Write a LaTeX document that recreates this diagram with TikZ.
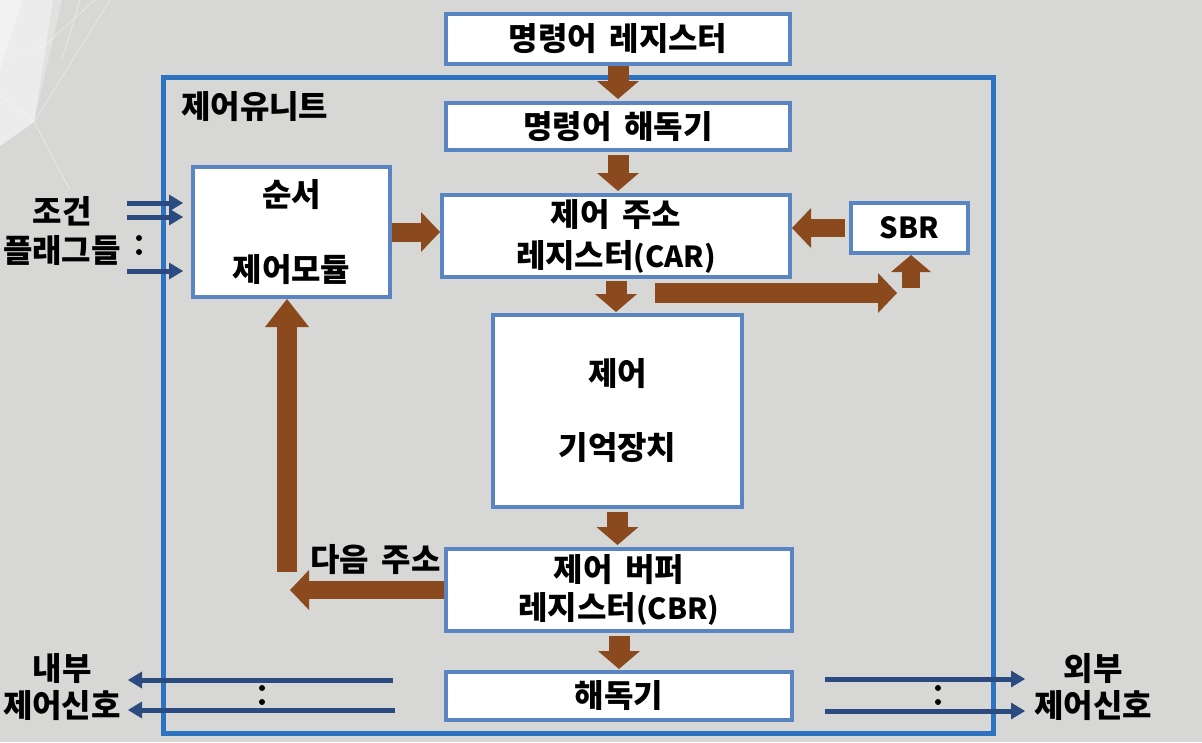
\documentclass[tikz,border=0pt]{standalone}
\usepackage{fontspec}
\setmainfont{Noto Sans CJK KR}
\usetikzlibrary{arrows.meta,calc}
\definecolor{bg}{HTML}{D7D7D5}
\definecolor{outerb}{HTML}{2E72C2}
\definecolor{boxb}{HTML}{5A85C3}
\definecolor{brn}{HTML}{8B4A1E}
\definecolor{navy}{HTML}{2B4B80}
\newcommand{\ws}{\hspace{0.4em}}
\newcommand{\lat}[1]{{\fontsize{29}{38}\selectfont #1}}
\begin{document}
\begin{tikzpicture}[x=1pt,y=-1pt,
  box/.style={draw=boxb, line width=4pt, fill=white, inner sep=0pt, align=center,
    font=\fontsize{32}{38}\selectfont\bfseries},
  lbl/.style={align=center, inner sep=0pt, font=\fontsize{32}{38}\selectfont\bfseries},
  barrow/.style={draw=brn, line width=21pt, -{Triangle[length=18pt,width=42pt,line width=0pt]}},
  harrow/.style={draw=brn, line width=19pt, -{Triangle[length=19pt,width=40pt,line width=0pt]}},
  sig/.style={draw=navy, line width=5pt, -{Triangle[length=14pt,width=17pt,line width=0pt]}},
  dotm/.style={fill=black, circle, inner sep=0pt, minimum size=6pt}]
\fill[bg] (0,0) rectangle (1202,742);
\useasboundingbox (0,0) rectangle (1202,742);
% background decoration
\fill[white, opacity=0.55] (0,0) -- (53,0) -- (34,122) -- (0,146) -- cycle;
\fill[white, opacity=0.35] (0,0) -- (22,0) -- (0,70) -- cycle;
\fill[white, opacity=0.25] (53,0) -- (62,0) -- (34,122) -- cycle;
\draw[white, opacity=0.5, line width=0.6pt] (0,95) -- (34,122) (34,122) -- (110,0) (0,60) -- (45,45) -- (95,0) (62,60) -- (80,0) (34,122) -- (70,190);

% control unit frame
\node[draw=outerb, line width=5pt, minimum width=830pt, minimum height=656pt, inner sep=0pt] (cu) at (578,405) {};
\node[lbl, anchor=west] (cut) at (181,107) {제어유니트};

% boxes
\node[box, minimum width=344pt, minimum height=50pt] (ir) at (618,39) {명령어\ws 레지스터};
\node[box, minimum width=344pt, minimum height=47pt] (dec1) at (618,126.5) {명령어\ws 해독기};
\node[box, minimum width=348pt, minimum height=82pt] (car) at (616,236) {제어\ws 주소\\[3pt]레지스터\lat{(CAR)}};
\node[box, minimum width=117pt, minimum height=50pt] (sbr) at (909.5,228) {\lat{SBR}};
\node[box, minimum width=197pt, minimum height=130pt] (seq) at (291.5,232) {순서\\[37pt]제어모듈};
\node[box, minimum width=249pt, minimum height=192pt] (mem) at (617.5,411) {제어\\[36pt]기억장치};
\node[box, minimum width=346pt, minimum height=82pt] (cbr) at (619,590) {제어\ws 버퍼\\[0pt]레지스터\lat{(CBR)}};
\node[box, minimum width=346pt, minimum height=48pt] (dec2) at (619,696) {해독기};

% brown block arrows
\draw[barrow, shorten >=2pt] (ir.south) -- (dec1.north);
\draw[barrow, shorten <=3pt, shorten >=2pt] (dec1.south) -- (dec1.south |- car.north);
\draw[barrow, shorten <=2pt, shorten >=1pt] (car.south) -- (car.south |- mem.north);
\draw[barrow, shorten <=3pt, shorten >=2pt] (mem.south) -- (mem.south |- cbr.north);
\draw[barrow, shorten <=3pt, shorten >=1pt] (cbr.south) -- (cbr.south |- dec2.north);
\draw[harrow, line width=18pt, shorten <=4pt] (sbr.west) -- (sbr.west -| car.east);
\draw[harrow] (seq.east) -- (seq.east -| car.west);
\coordinate (cara) at (655,293);
\coordinate (carb) at (897,293);
\draw[harrow, line width=20pt] (cara) -- (carb);
\coordinate (sbru) at (911,288);
\draw[harrow, line width=18pt, -{Triangle[length=17pt,width=40pt,line width=0pt]}] (sbru) -- (sbru |- sbr.south);
\coordinate (nxt) at (290,593);
\draw[harrow, line width=18pt] (cbr.west) -- (cbr.west -| nxt);
\coordinate (upl) at (287,572);
\draw[harrow, line width=20pt, -{Triangle[length=28pt,width=44pt,line width=0pt]}] (upl) -- (upl |- seq.south);
\node[lbl, anchor=east] (nxtl) at (441,560) {다음\ws 주소};

% condition flags
\node[lbl] (cf1) at (62,211) {조건};
\node[lbl] (cf2) at (62,250) {플래그들};
\coordinate (f1) at (127,203);
\coordinate (f2) at (127,217);
\coordinate (f3) at (127,271);
\draw[sig, shorten >=8pt] (f1) -- (f1 -| seq.west);
\draw[sig, shorten >=8pt] (f2) -- (f2 -| seq.west);
\draw[sig, shorten >=8pt] (f3) -- (f3 -| seq.west);
\node[dotm] (d1) at (139,238) {};
\node[dotm] (d2) at (139,252) {};

% internal control signals
\node[lbl] (in1) at (62,669) {내부};
\node[lbl] (in2) at (62,706) {제어신호};
\coordinate (ia) at (393,680);
\coordinate (ib) at (128,680);
\coordinate (ic) at (395,710);
\coordinate (id) at (128,710);
\draw[sig] (ia) -- (ib);
\draw[sig] (ic) -- (id);
\node[dotm] (d3) at (262,688) {};
\node[dotm] (d4) at (262,702) {};

% external control signals
\node[lbl] (ex1) at (1093,669) {외부};
\node[lbl] (ex2) at (1093,706) {제어신호};
\coordinate (ea) at (825,679);
\coordinate (eb) at (1025,679);
\coordinate (ec) at (825,711);
\coordinate (ed) at (1025,711);
\draw[sig] (ea) -- (eb);
\draw[sig] (ec) -- (ed);
\node[dotm] (d5) at (938,688) {};
\node[dotm] (d6) at (938,702) {};
\end{tikzpicture}
\end{document}
